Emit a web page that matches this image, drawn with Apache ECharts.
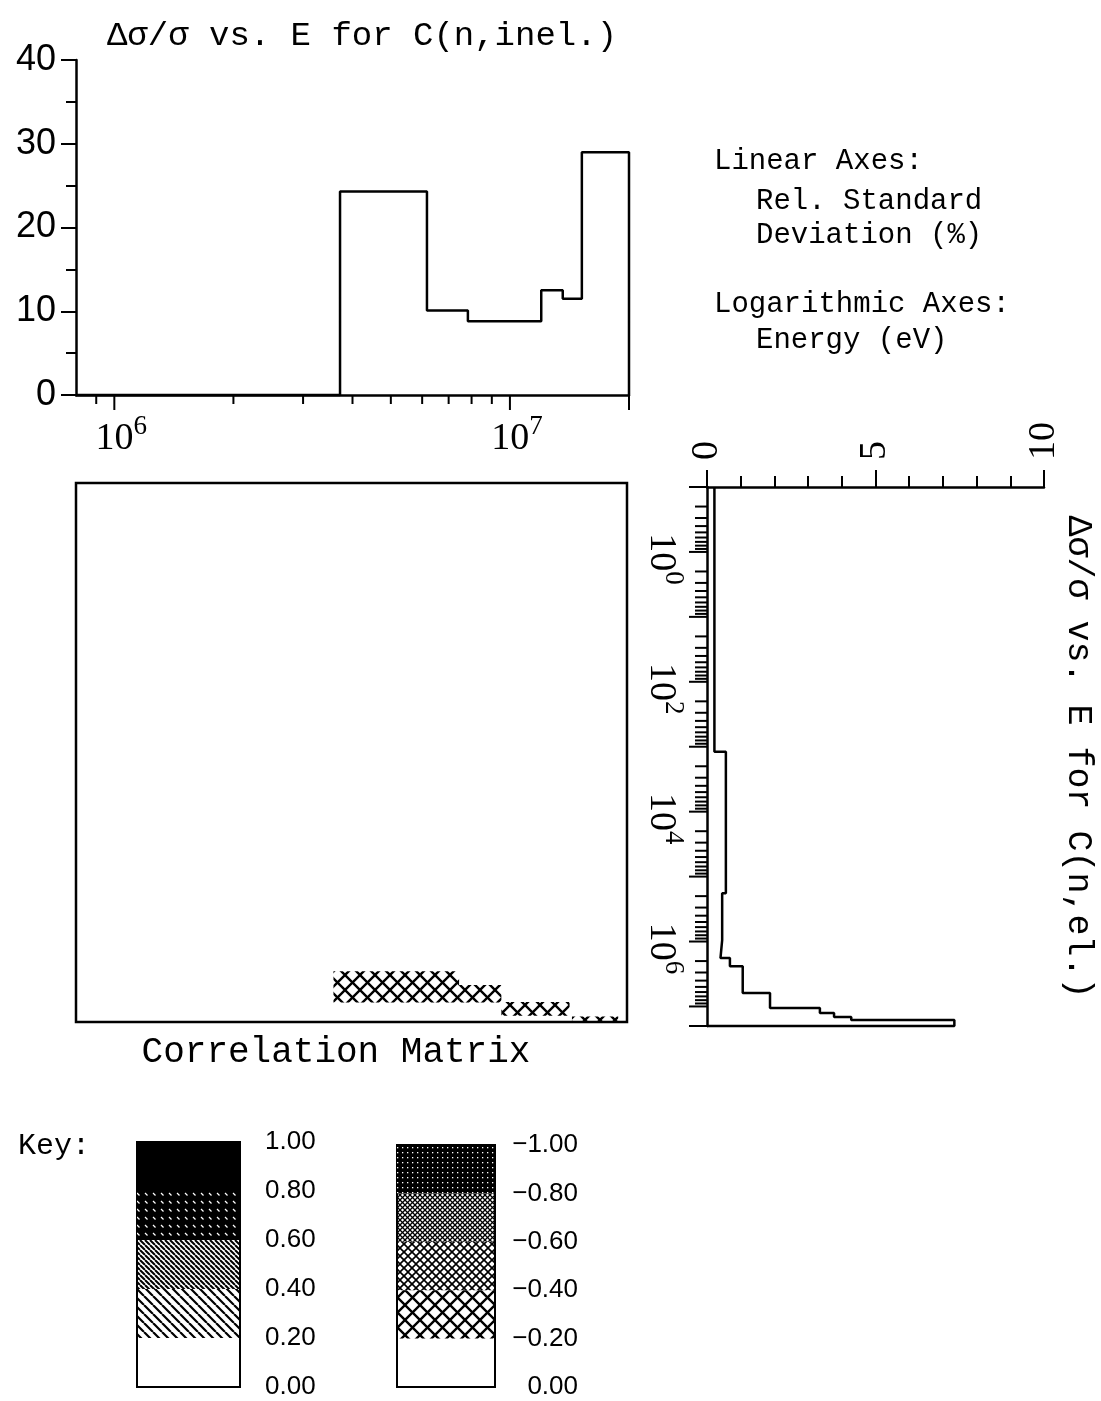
<!DOCTYPE html>
<html><head><meta charset="utf-8">
<script src="https://cdn.jsdelivr.net/npm/echarts@6/dist/echarts.min.js"></script>
<style>html,body{margin:0;padding:0;background:#fff}#c{width:1101px;height:1401px}</style>
</head><body><div id="c"></div>
<script>
// ---------------- data ----------------
// C(n,inel.) relative standard deviation (%) per energy group
const inelEdges = [8e5, 3.72e6, 6.17e6, 7.83e6, 1.2e7, 1.36e7, 1.52e7, 2e7];
const inelRSD = [0, 24.3, 10.1, 8.8, 12.5, 11.5, 29.0];
// C(n,el.) relative standard deviation (%) per energy group
const elEdges = [0.1, 1.2e3, 1.8e5, 9.5e5, 1.8e6, 2.4e6, 6.2e6, 1.06e7, 1.26e7, 1.45e7, 1.62e7, 2e7];
const elRSD = [0.22, 0.56, 0.45, 0.40, 0.68, 1.06, 1.87, 3.35, 3.77, 4.28, 7.34];
// correlation matrix blocks (x: inel energy, y: el energy)
const corrInelLo = [3.6e6, 6.0e6, 7.5e6, 9.6e6, 1.45e7];
const corrInelHi = [6.0e6, 7.5e6, 9.6e6, 1.43e7, 1.9e7];
const corrElLo = [3.3e6, 3.3e6, 5.4e6, 9.8e6, 1.65e7];
const corrElHi = [1.0e7, 1.0e7, 1.0e7, 1.6e7, 2.0e7];
const corrValue = [-0.3, -0.3, -0.3, -0.3, -0.3];
// tick labels
const inelLabelExps = [6, 7];
const elLabelExps = [0, 2, 4, 6];
const inelTickValues = [9e5, 1e6, 2e6, 3e6, 4e6, 5e6, 6e6, 7e6, 8e6, 9e6, 1e7, 2e7];
const inelMajorTicks = [1e6, 1e7, 2e7];
const elTickDecades = [-1, 0, 1, 2, 3, 4, 5, 6, 7];
const minorMantissas = [2, 3, 4, 5, 6, 7, 8, 9];
const elMaxEnergy = 2e7;
const keyPosLevels = [0, 0.2, 0.4, 0.6, 0.8, 1.0];
const keyNegLevels = [0, -0.2, -0.4, -0.6, -0.8, -1.0];

// ---------------- patterns ----------------
function tile(size, fn) { const c = document.createElement('canvas'); c.width = size; c.height = size; const g = c.getContext('2d'); fn(g, size); return c; }
function diag(g, p, dir, lw, col) {
  g.strokeStyle = col || '#000'; g.lineWidth = lw; g.beginPath();
  for (let k = -1; k <= 1; k++) {
    if (dir > 0) { g.moveTo(k * p, 0); g.lineTo(k * p + p, p); }
    else { g.moveTo(k * p, p); g.lineTo(k * p + p, 0); }
  }
  g.stroke();
}
const PAT = {
  pos1: tile(9, (g, p) => diag(g, p, 1, 2.2)),
  pos2: tile(5, (g, p) => diag(g, p, 1, 2)),
  pos3: tile(8, (g, p) => { g.fillStyle = '#000'; g.fillRect(0, 0, p, p); g.strokeStyle = '#fff'; g.lineWidth = 1.2; g.beginPath(); g.moveTo(1, 1); g.lineTo(3.5, 3.5); g.stroke(); }),
  pos4: '#000',
  neg1: tile(15, (g, p) => { diag(g, p, 1, 2.4); diag(g, p, -1, 2.4); }),
  neg2: tile(8, (g, p) => { diag(g, p, 1, 1.6); diag(g, p, -1, 1.6); }),
  neg3: tile(5, (g, p) => { diag(g, p, 1, 1.3); diag(g, p, -1, 1.3); }),
  neg4: tile(5, (g, p) => { g.fillStyle = '#000'; g.fillRect(0, 0, p, p); g.fillStyle = '#fff'; g.fillRect(2, 2, 1.3, 1.3); })
};
function fillFor(v) {
  const a = Math.abs(v);
  if (a < 0.2 - 1e-9) return 'rgba(0,0,0,0)';
  const idx = Math.min(4, Math.floor(a / 0.2 + 1e-9));
  const p = PAT[(v > 0 ? 'pos' : 'neg') + idx];
  return typeof p === 'string' ? p : { image: p, repeat: 'repeat' };
}

// ---------------- derived series data ----------------
const inelLine = [];
for (let i = 0; i < inelRSD.length; i++) { inelLine.push([inelEdges[i], inelRSD[i]]); inelLine.push([inelEdges[i + 1], inelRSD[i]]); }
inelLine.push([inelEdges[inelEdges.length - 1], 0]);
const elLine = [];
for (let i = 0; i < elRSD.length; i++) { elLine.push([elRSD[i], elEdges[i]]); elLine.push([elRSD[i], elEdges[i + 1]]); }
elLine.push([0, elEdges[elEdges.length - 1]]);
const corrCells = corrValue.map((v, i) => [corrInelLo[i], corrInelHi[i], corrElLo[i], corrElHi[i], v]);
const inelTicks = inelTickValues.map(v => [v, 0, inelMajorTicks.indexOf(v) >= 0 ? 1 : 0]);
const elTicks = [];
elTickDecades.forEach(d => {
  const base = Math.pow(10, d);
  elTicks.push([0, base, 1]);
  minorMantissas.forEach(m => { const v = m * base; if (v <= elMaxEnergy * 1.0001) elTicks.push([0, v, v >= elMaxEnergy * 0.9999 ? 1 : 0]); });
});
const keyPosBands = keyPosLevels.slice(0, -1).map((lo, i) => [lo, keyPosLevels[i + 1]]);
const keyNegBands = keyNegLevels.slice(0, -1).map((lo, i) => [keyNegLevels[i + 1], lo]);

function powLabel(exps) {
  return function (v) {
    const e = Math.log10(v), r = Math.round(e);
    if (Math.abs(e - r) > 1e-6 || exps.indexOf(r) < 0) return '';
    return '{p| }{b|10}{s|' + r + '}';
  };
}
const powRich = {
  p: { width: 14 },
  b: { fontSize: 38, fontFamily: 'Liberation Serif', color: '#000', padding: [7, 0, 0, 0] },
  s: { fontSize: 27, fontFamily: 'Liberation Serif', color: '#000', verticalAlign: 'top' }
};
const AX = { lineStyle: { color: '#000', width: 2.5 } };
const hidden = { show: false };

const chart = echarts.init(document.getElementById('c'), null, { renderer: 'canvas' });
chart.setOption({
  animation: false,
  backgroundColor: '#fff',
  grid: [
    { left: 76, top: 60, width: 553, height: 335 },
    { left: 76, top: 483, width: 551, height: 539, show: true, borderColor: '#000', borderWidth: 2.5, backgroundColor: 'transparent' },
    { left: 707, top: 487, width: 337, height: 539 },
    { left: 137, top: 1142, width: 103, height: 245, show: true, borderColor: '#000', borderWidth: 2, backgroundColor: 'transparent' },
    { left: 397, top: 1145, width: 98, height: 242, show: true, borderColor: '#000', borderWidth: 2, backgroundColor: 'transparent' }
  ],
  xAxis: [
    { type: 'log', gridIndex: 0, logBase: 10, min: inelEdges[0], max: inelEdges[inelEdges.length - 1],
      axisLine: { show: true, onZero: false, lineStyle: AX.lineStyle }, axisTick: hidden, splitLine: hidden,
      axisLabel: { formatter: powLabel(inelLabelExps), rich: powRich, margin: 18, showMinLabel: false, showMaxLabel: false } },
    { type: 'log', gridIndex: 1, logBase: 10, min: inelEdges[0], max: inelEdges[inelEdges.length - 1], show: false },
    { type: 'value', gridIndex: 2, position: 'top', min: 0, max: 10, interval: 5,
      axisLine: { show: true, onZero: false, lineStyle: AX.lineStyle },
      axisTick: { show: true, length: 17, lineStyle: { color: '#000', width: 2 } },
      minorTick: { show: true, splitNumber: 5, length: 11, lineStyle: { color: '#000', width: 2 } },
      splitLine: hidden, minorSplitLine: hidden,
      axisLabel: { rotate: -90, margin: 27, fontSize: 38, fontFamily: 'Liberation Serif', color: '#000' } },
    { type: 'value', gridIndex: 3, min: 0, max: 1, show: false },
    { type: 'value', gridIndex: 4, min: 0, max: 1, show: false }
  ],
  yAxis: [
    { type: 'value', gridIndex: 0, min: 0, max: 40, interval: 10,
      axisLine: { show: true, onZero: false, lineStyle: AX.lineStyle },
      axisTick: { show: true, length: 15, lineStyle: { color: '#000', width: 2 } },
      minorTick: { show: true, splitNumber: 2, length: 10, lineStyle: { color: '#000', width: 2 } },
      splitLine: hidden, minorSplitLine: hidden,
      axisLabel: { margin: 20, fontSize: 36, fontFamily: 'Liberation Sans', color: '#000' } },
    { type: 'log', gridIndex: 1, logBase: 10, min: elEdges[0], max: elEdges[elEdges.length - 1], inverse: true, show: false },
    { type: 'log', gridIndex: 2, logBase: 10, min: elEdges[0], max: elEdges[elEdges.length - 1], inverse: true,
      axisLine: { show: true, onZero: false, lineStyle: AX.lineStyle }, axisTick: hidden, splitLine: hidden,
      axisLabel: { rotate: -90, formatter: powLabel(elLabelExps), rich: powRich, margin: 20, showMinLabel: false, showMaxLabel: false } },
    { type: 'value', gridIndex: 3, min: 0, max: 1, interval: 0.2, position: 'right',
      axisLine: { show: false, onZero: false }, axisTick: hidden, splitLine: hidden,
      axisLabel: { margin: 25, align: 'left', fontSize: 26, fontFamily: 'Liberation Sans', color: '#000', formatter: v => v.toFixed(2) } },
    { type: 'value', gridIndex: 4, min: -1, max: 0, interval: 0.2, inverse: true, position: 'right',
      axisLine: { show: false, onZero: false }, axisTick: hidden, splitLine: hidden,
      axisLabel: { margin: 83, align: 'right', fontSize: 26, fontFamily: 'Liberation Sans', color: '#000',
        formatter: v => (Math.abs(v) < 1e-9 ? '0.00' : (v < 0 ? '\u2212' + Math.abs(v).toFixed(2) : v.toFixed(2))) } }
  ],
  series: [
    { type: 'line', xAxisIndex: 0, yAxisIndex: 0, data: inelLine, showSymbol: false, symbol: 'none',
      lineStyle: { color: '#000', width: 2.5 }, clip: false },
    { type: 'custom', xAxisIndex: 0, yAxisIndex: 0, data: inelTicks, clip: false,
      renderItem: (params, api) => {
        const p = api.coord([api.value(0), 0]); const len = api.value(2) ? 15 : 9;
        return { type: 'line', shape: { x1: p[0], y1: p[1], x2: p[0], y2: p[1] + len }, style: { stroke: '#000', lineWidth: 2 } };
      } },
    { type: 'custom', xAxisIndex: 1, yAxisIndex: 1, data: corrCells, clip: true,
      renderItem: (params, api) => {
        const a = api.coord([api.value(0), api.value(2)]); const b = api.coord([api.value(1), api.value(3)]);
        return { type: 'rect', shape: { x: Math.min(a[0], b[0]), y: Math.min(a[1], b[1]), width: Math.abs(b[0] - a[0]), height: Math.abs(b[1] - a[1]) },
          style: { fill: fillFor(api.value(4)), stroke: null } };
      } },
    { type: 'line', xAxisIndex: 2, yAxisIndex: 2, data: elLine, showSymbol: false, symbol: 'none',
      lineStyle: { color: '#000', width: 2.5 }, clip: false },
    { type: 'custom', xAxisIndex: 2, yAxisIndex: 2, data: elTicks, clip: false,
      renderItem: (params, api) => {
        const p = api.coord([0, api.value(1)]); const len = api.value(2) ? 18 : 12;
        return { type: 'line', shape: { x1: p[0] - len, y1: p[1], x2: p[0], y2: p[1] }, style: { stroke: '#000', lineWidth: 2 } };
      } },
    { type: 'custom', xAxisIndex: 3, yAxisIndex: 3, data: keyPosBands,
      renderItem: (params, api) => {
        const a = api.coord([0, api.value(0)]); const b = api.coord([1, api.value(1)]);
        return { type: 'rect', shape: { x: a[0], y: b[1], width: b[0] - a[0], height: a[1] - b[1] },
          style: { fill: fillFor((api.value(0) + api.value(1)) / 2), stroke: null } };
      } },
    { type: 'custom', xAxisIndex: 4, yAxisIndex: 4, data: keyNegBands,
      renderItem: (params, api) => {
        const a = api.coord([0, api.value(0)]); const b = api.coord([1, api.value(1)]);
        return { type: 'rect', shape: { x: a[0], y: Math.min(a[1], b[1]), width: b[0] - a[0], height: Math.abs(a[1] - b[1]) },
          style: { fill: fillFor((api.value(0) + api.value(1)) / 2), stroke: null } };
      } }
  ],
  graphic: [
    { type: 'text', x: 362, y: 36, style: { text: 'Δσ/σ vs. E for C(n,inel.)', font: '34px "Liberation Mono"', fill: '#000', align: 'center', verticalAlign: 'middle' } },
    { type: 'text', x: 714, y: 161, style: { text: 'Linear Axes:', font: '29px "Liberation Mono"', fill: '#000', align: 'left', verticalAlign: 'middle' } },
    { type: 'text', x: 756, y: 201, style: { text: 'Rel. Standard', font: '29px "Liberation Mono"', fill: '#000', align: 'left', verticalAlign: 'middle' } },
    { type: 'text', x: 756, y: 235, style: { text: 'Deviation (%)', font: '29px "Liberation Mono"', fill: '#000', align: 'left', verticalAlign: 'middle' } },
    { type: 'text', x: 714, y: 304, style: { text: 'Logarithmic Axes:', font: '29px "Liberation Mono"', fill: '#000', align: 'left', verticalAlign: 'middle' } },
    { type: 'text', x: 756, y: 340, style: { text: 'Energy (eV)', font: '29px "Liberation Mono"', fill: '#000', align: 'left', verticalAlign: 'middle' } },
    { type: 'text', x: 336, y: 1052, style: { text: 'Correlation Matrix', font: '36px "Liberation Mono"', fill: '#000', align: 'center', verticalAlign: 'middle' } },
    { type: 'text', x: 1078, y: 757, rotation: -Math.PI / 2, style: { text: 'Δσ/σ vs. E for C(n,el.)', font: '35px "Liberation Mono"', fill: '#000', align: 'center', verticalAlign: 'middle' } },
    { type: 'text', x: 18, y: 1146, style: { text: 'Key:', font: '30px "Liberation Mono"', fill: '#000', align: 'left', verticalAlign: 'middle' } }
  ]
});
</script></body></html>
